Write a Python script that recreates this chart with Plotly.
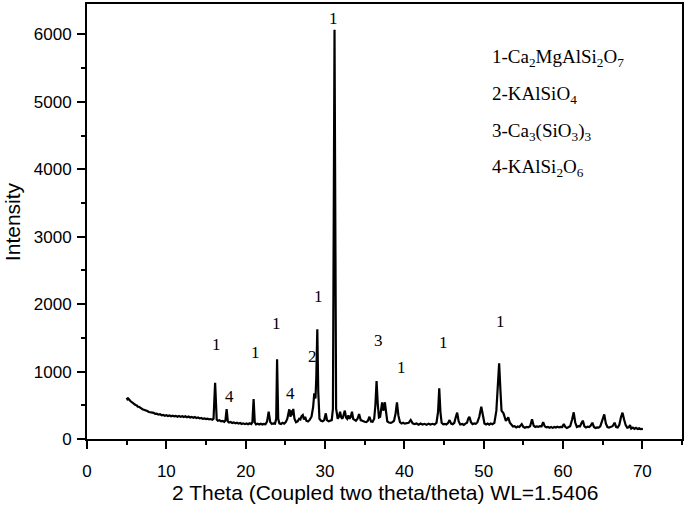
import plotly.graph_objects as go

two_theta = [
    5.0, 5.1, 5.2, 5.35, 5.5, 5.65, 5.8, 5.95, 6.1, 6.25, 6.4, 6.55, 6.7, 6.85, 7.0, 7.2, 7.4, 7.6, 7.8, 8.0,
    8.2, 8.4, 8.6, 8.8, 9.0, 9.2, 9.4, 9.6, 9.8, 10.0, 10.2, 10.4, 10.6, 10.8, 11.0, 11.2, 11.4, 11.6, 11.8, 12.0,
    12.2, 12.4, 12.6, 12.8, 13.0, 13.2, 13.4, 13.6, 13.8, 14.0, 14.2, 14.4, 14.6, 14.8, 15.0, 15.2, 15.4, 15.6, 15.8, 15.95,
    16.15, 16.35, 16.5, 16.7, 16.9, 17.1, 17.3, 17.45, 17.6, 17.75, 17.9, 18.1, 18.3, 18.5, 18.7, 18.9, 19.1, 19.3, 19.5, 19.7,
    19.9, 20.1, 20.3, 20.5, 20.7, 20.85, 21.0, 21.15, 21.3, 21.5, 21.7, 21.9, 22.1, 22.3, 22.5, 22.7, 22.9, 23.1, 23.3, 23.5,
    23.7, 23.85, 23.96, 24.1, 24.25, 24.45, 24.65, 24.85, 25.05, 25.25, 25.5, 25.65, 25.8, 25.9, 26.0, 26.15, 26.35, 26.55, 26.75, 26.9,
    27.05, 27.2, 27.35, 27.5, 27.65, 27.85, 28.05, 28.3, 28.5, 28.65, 28.8, 28.9, 29.03, 29.15, 29.3, 29.5, 29.7, 29.9, 30.1, 30.25,
    30.45, 30.65, 30.85, 31.0, 31.2, 31.4, 31.6, 31.75, 31.9, 32.05, 32.2, 32.35, 32.5, 32.65, 32.8, 32.95, 33.1, 33.25, 33.4, 33.55,
    33.7, 33.9, 34.1, 34.3, 34.5, 34.75, 35.0, 35.2, 35.4, 35.6, 35.8, 36.0, 36.2, 36.35, 36.5, 36.65, 36.8, 36.95, 37.1, 37.2,
    37.35, 37.55, 37.7, 37.85, 38.05, 38.3, 38.5, 38.7, 38.9, 39.07, 39.25, 39.45, 39.65, 39.85, 40.05, 40.3, 40.55, 40.8, 41.05, 41.3,
    41.55, 41.8, 42.05, 42.3, 42.55, 42.8, 43.05, 43.3, 43.55, 43.8, 44.05, 44.25, 44.4, 44.55, 44.7, 44.9, 45.1, 45.3, 45.5, 45.7,
    45.9, 46.1, 46.3, 46.5, 46.66, 46.85, 47.05, 47.3, 47.5, 47.7, 47.9, 48.05, 48.2, 48.4, 48.6, 48.8, 49.0, 49.2, 49.45, 49.7,
    49.9, 50.1, 50.3, 50.5, 50.7, 50.9, 51.1, 51.35, 51.6, 51.8, 51.95, 52.1, 52.25, 52.5, 52.65, 52.8, 53.0, 53.1, 53.3, 53.5,
    53.7, 53.9, 54.1, 54.3, 54.5, 54.8, 55.0, 55.2, 55.4, 55.6, 55.85, 56.1, 56.3, 56.5, 56.7, 56.9, 57.1, 57.3, 57.5, 57.7,
    57.9, 58.1, 58.3, 58.5, 58.7, 58.9, 59.1, 59.3, 59.5, 59.7, 59.9, 60.1, 60.3, 60.5, 60.7, 60.9, 61.15, 61.35, 61.55, 61.75,
    61.95, 62.15, 62.35, 62.5, 62.7, 62.9, 63.1, 63.3, 63.5, 63.7, 63.9, 64.1, 64.3, 64.5, 64.7, 64.95, 65.2, 65.4, 65.6, 65.8,
    66.0, 66.25, 66.5, 66.7, 66.9, 67.1, 67.3, 67.5, 67.7, 67.9, 68.1, 68.3, 68.45, 68.6, 68.8, 69.0, 69.2, 69.4, 69.6, 69.8,
    70.07,
]

intensity = [
    612, 590, 600, 570, 560, 545, 530, 520, 505, 500, 480, 478, 460, 455, 440, 435, 420, 415, 400, 398,
    385, 388, 372, 375, 362, 368, 352, 358, 345, 352, 340, 348, 336, 345, 335, 343, 330, 340, 328, 338,
    325, 336, 322, 333, 318, 328, 315, 325, 310, 318, 305, 312, 298, 306, 295, 302, 290, 296, 285, 300,
    835, 290, 270, 278, 262, 268, 255, 275, 445, 260, 245, 252, 238, 246, 232, 240, 228, 236, 222, 232,
    220, 230, 218, 232, 222, 250, 593, 245, 218, 228, 215, 226, 214, 225, 218, 260, 405, 250, 222, 232,
    228, 300, 1181, 300, 232, 222, 240, 228, 250, 300, 440, 330, 425, 350, 445, 300, 250, 262, 300, 290,
    340, 356, 290, 330, 270, 260, 280, 330, 470, 677, 600, 900, 1626, 700, 300, 270, 262, 280, 380, 280,
    262, 270, 280, 450, 6070, 450, 300, 330, 405, 320, 300, 360, 420, 320, 300, 350, 300, 330, 405, 300,
    280, 270, 300, 370, 280, 262, 255, 250, 270, 330, 260, 255, 300, 500, 860, 520, 320, 330, 480, 544,
    420, 544, 400, 260, 245, 240, 250, 270, 380, 544, 350, 250, 230, 240, 228, 238, 240, 282, 232, 220,
    230, 212, 230, 215, 225, 210, 228, 215, 225, 215, 240, 400, 751, 400, 240, 218, 225, 215, 235, 280,
    228, 220, 240, 330, 390, 260, 215, 222, 210, 228, 240, 300, 330, 250, 220, 230, 225, 245, 330, 480,
    330, 230, 215, 228, 212, 230, 220, 240, 420, 800, 1122, 750, 420, 380, 300, 270, 300, 320, 240, 205,
    185, 190, 172, 185, 178, 220, 180, 168, 178, 172, 190, 292, 198, 178, 188, 182, 192, 188, 250, 188,
    172, 180, 168, 178, 165, 178, 170, 182, 172, 180, 178, 222, 178, 162, 172, 188, 290, 395, 240, 178,
    190, 188, 240, 272, 188, 172, 182, 178, 200, 242, 178, 162, 172, 168, 188, 280, 366, 230, 178, 170,
    182, 190, 242, 178, 172, 210, 320, 390, 290, 205, 168, 175, 207, 155, 170, 150, 165, 148, 160, 146,
    150,
]

x_ticks = [0, 10, 20, 30, 40, 50, 60, 70]
y_ticks = [0, 1000, 2000, 3000, 4000, 5000, 6000]

peak_x = [16.3, 17.9, 21.3, 23.85, 25.7, 28.4, 29.2, 31.1, 36.8, 39.6, 44.9, 52.15]
peak_y = [1394, 623, 1290, 1720, 682, 1230, 2120, 6240, 1468, 1067, 1438, 1735]
peak_text = ["1", "4", "1", "1", "4", "2", "1", "1", "3", "1", "1", "1"]

phase_labels = [
    "1-Ca<sub>2</sub>MgAlSi<sub>2</sub>O<sub>7</sub>",
    "2-KAlSiO<sub>4</sub>",
    "3-Ca<sub>3</sub>(SiO<sub>3</sub>)<sub>3</sub>",
    "4-KAlSi<sub>2</sub>O<sub>6</sub>",
]
phase_label_y = [5649, 5100, 4552, 4018]

fig = go.Figure()
fig.add_trace(go.Scatter(
    x=two_theta, y=intensity, mode="lines",
    line=dict(color="black", width=2.2), showlegend=False,
))

for px, py, t in zip(peak_x, peak_y, peak_text):
    fig.add_annotation(x=px, y=py, xref="x", yref="y", text=t, showarrow=False,
                       font=dict(family="Liberation Serif", size=17, color="black"))

for t, py in zip(phase_labels, phase_label_y):
    fig.add_annotation(x=50.8, y=py, xref="x", yref="y", text=t, showarrow=False,
                       xanchor="left", yanchor="middle",
                       font=dict(family="Liberation Serif", size=19, color="black"))

# axis titles
fig.add_annotation(x=-0.125, y=0.5, xref="paper", yref="paper", text="Intensity",
                   textangle=-90, showarrow=False, xanchor="center", yanchor="middle",
                   font=dict(family="Liberation Sans", size=21, color="black"))
fig.add_annotation(x=0.5, y=-0.124, xref="paper", yref="paper",
                   text="2 Theta (Coupled two theta/theta) WL=1.5406",
                   showarrow=False, xanchor="center", yanchor="middle",
                   font=dict(family="Liberation Sans", size=21, color="black"))

axis_common = dict(
    showline=True, linecolor="black", linewidth=2, mirror=True,
    ticks="outside", ticklen=8, tickwidth=1.5, tickcolor="black",
    showgrid=False, zeroline=False, automargin=False,
    tickfont=dict(family="Liberation Sans", size=17, color="black"),
)

fig.update_xaxes(
    range=[0, 75], tickvals=x_ticks, ticktext=[str(v) for v in x_ticks],
    minor=dict(dtick=5, tick0=0, ticks="outside", ticklen=4, tickwidth=1.5, tickcolor="black"),
    ticklabelstandoff=8,
    **axis_common,
)
fig.update_yaxes(
    range=[0, 6450], tickvals=y_ticks, ticktext=[str(v) for v in y_ticks],
    minor=dict(dtick=500, tick0=0, ticks="outside", ticklen=4, tickwidth=1.5, tickcolor="black"),
    ticklabelstandoff=2,
    **axis_common,
)

fig.update_layout(
    width=685, height=509,
    margin=dict(l=87, r=3, t=4, b=70),
    plot_bgcolor="white", paper_bgcolor="white",
)

fig.write_html(
    "out.html",
    config={"displayModeBar": False},
    post_script="document.body.style.margin='0';document.body.style.padding='0';document.body.style.overflow='hidden';",
)
